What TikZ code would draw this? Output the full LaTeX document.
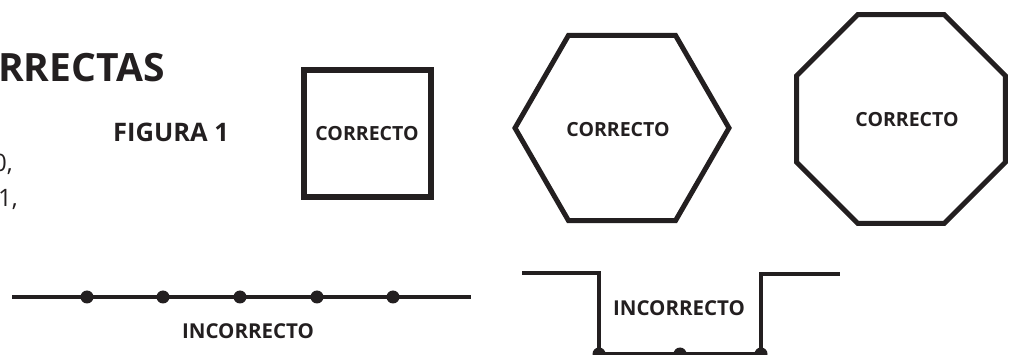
\documentclass[tikz,border=0pt]{standalone}
\usepackage{fontspec}
\setmainfont{Open Sans}
\usetikzlibrary{shapes.geometric}
\definecolor{ink}{HTML}{231F20}
\tikzset{
  figline/.style={draw=ink, line width=5pt, line join=miter},
  dotpt/.style={circle, fill=ink, inner sep=0pt, minimum size=13pt},
  lbl/.style={text=ink, font=\bfseries\fontsize{19.5}{24}\selectfont, inner sep=0pt},
}
\begin{document}
\begin{tikzpicture}[x=1pt, y=-1pt]
  \useasboundingbox (0,0) rectangle (1013,355);
  \clip (0,0) rectangle (1013,355);
  % text cut at the left edge
  \node[text=ink, font=\bfseries\fontsize{39}{46}\selectfont, anchor=base west, inner sep=0pt] (head) at (-2,82) {RRECTAS};
  \node[text=ink, font=\bfseries\fontsize{25.5}{30}\selectfont, anchor=base west, inner sep=0pt] (fig) at (113,142) {FIGURA 1};
  \node[text=ink, font=\fontsize{24}{28}\selectfont, anchor=base east, inner sep=0pt] (txta) at (13,172) {0,};
  \node[text=ink, font=\fontsize{24}{28}\selectfont, anchor=base east, inner sep=0pt] (txtb) at (18,207) {1,};
  % correct shapes
  \node[figline, line width=6pt, lbl, minimum size=127pt] (sq) at (367,134) {CORRECTO};
  \node[figline, regular polygon, regular polygon sides=6, minimum size=214pt] (hex) at (622,128) {};
  \node[lbl] (hextxt) at (618,130) {CORRECTO};
  \node[figline, regular polygon, regular polygon sides=8, minimum size=226pt] (oct) at (901,119) {};
  \node[lbl] (octtxt) at (907,120) {CORRECTO};
  % incorrect: straight line
  \coordinate (la) at (12,297);
  \node[dotpt] (d1) at (87,297) {};
  \node[dotpt] (d2) at (163,297) {};
  \node[dotpt] (d3) at (240,297) {};
  \node[dotpt] (d4) at (317,297) {};
  \node[dotpt] (d5) at (393,297) {};
  \coordinate (lb) at (471,297);
  \draw[figline, line width=4.5pt] (la) -- (d1.center) -- (d2.center) -- (d3.center) -- (d4.center) -- (d5.center) -- (lb);
  \node[lbl, font=\bfseries\fontsize{20.5}{24}\selectfont, anchor=base] (inca) at (248,339) {INCORRECTO};
  % incorrect: step
  \coordinate (ua) at (522,273);
  \coordinate (ub) at (599,273);
  \node[dotpt] (b1) at (599,354) {};
  \node[dotpt] (b2) at (680,354) {};
  \node[dotpt] (b3) at (761,354) {};
  \coordinate (uc) at (761,274);
  \coordinate (ud) at (840,274);
  \draw[figline, line width=4.5pt] (ua) -- (ub) -- (b1.center) -- (b2.center) -- (b3.center) -- (uc) -- (ud);
  \node[lbl, font=\bfseries\fontsize{20.5}{24}\selectfont, anchor=base] (incb) at (679,316) {INCORRECTO};
\end{tikzpicture}
\end{document}
